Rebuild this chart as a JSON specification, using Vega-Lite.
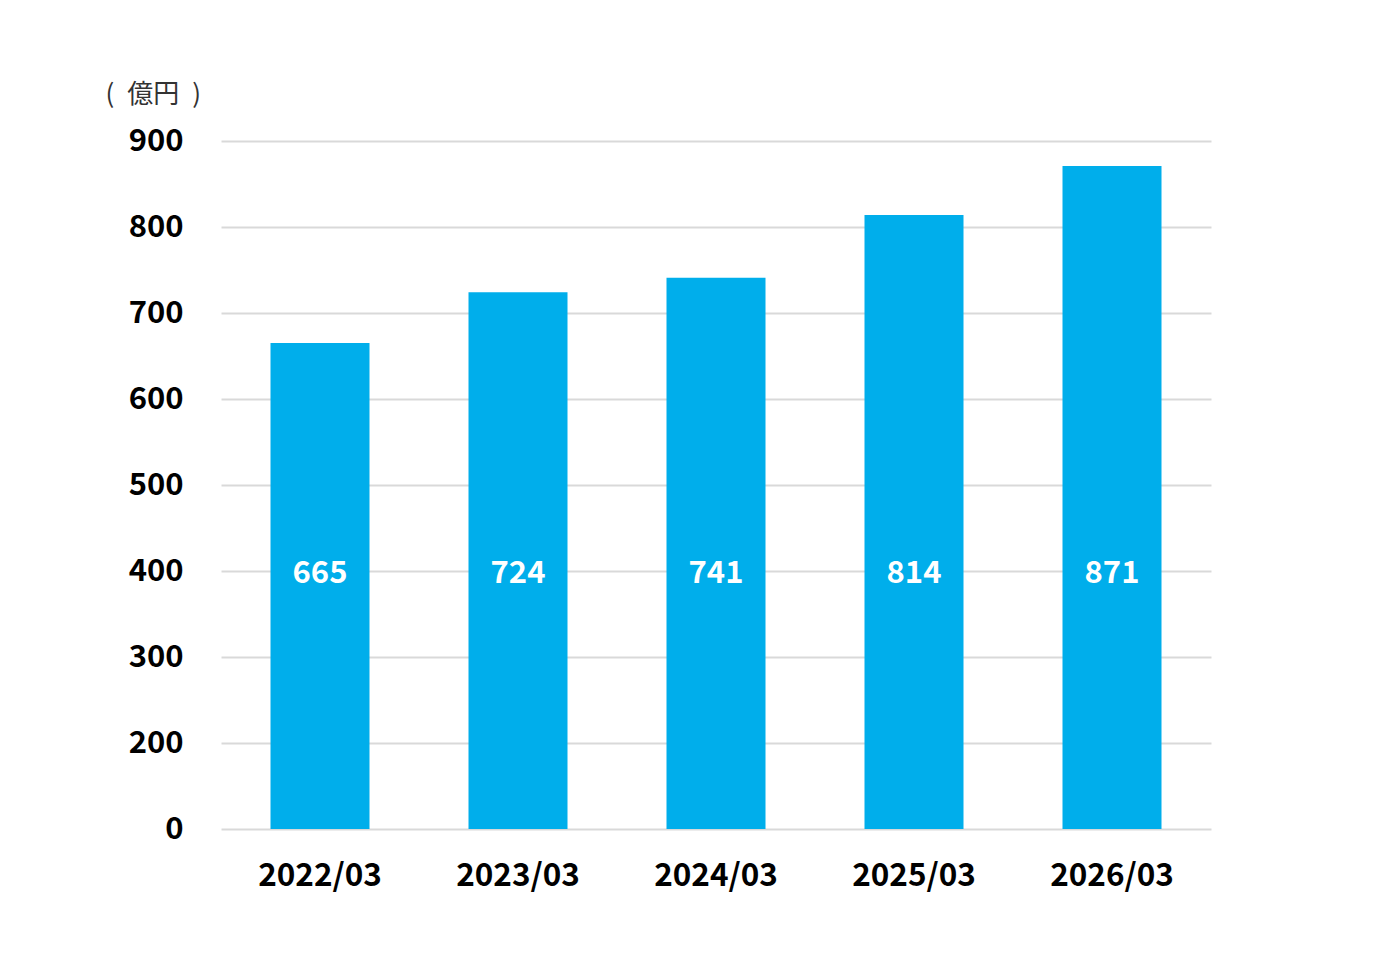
{
  "$schema": "https://vega.github.io/schema/vega-lite/v6.json",
  "width": 990,
  "height": 688,
  "autosize": {"type": "none"},
  "padding": {"left": 219, "top": 141, "right": 166, "bottom": 128},
  "background": "white",
  "config": {
    "view": {"stroke": null},
    "font": "Noto Sans CJK JP"
  },
  "data": {
    "values": [
      {"period": "2022/03", "sales": 665},
      {"period": "2023/03", "sales": 724},
      {"period": "2024/03", "sales": 741},
      {"period": "2025/03", "sales": 814},
      {"period": "2026/03", "sales": 871}
    ]
  },
  "encoding": {
    "x": {
      "field": "period",
      "type": "nominal",
      "sort": null,
      "scale": {"paddingInner": 0.5, "paddingOuter": 0.25, "range": [2, 992]},
      "axis": {
        "title": null,
        "labelAngle": 0,
        "labelFontSize": 31.5,
        "labelFontWeight": "bold",
        "labelColor": "#000000",
        "labelPadding": 31,
        "domain": false,
        "ticks": false
      }
    }
  },
  "layer": [
    {
      "mark": {"type": "bar", "color": "#00AEEB"},
      "encoding": {
        "y": {
          "field": "sales",
          "type": "quantitative",
          "scale": {"domain": [100, 900], "zero": false, "nice": false},
          "axis": {
            "values": [100, 200, 300, 400, 500, 600, 700, 800, 900],
            "labelExpr": "datum.value == 100 ? '0' : datum.label",
            "labelFontSize": 31,
            "labelFontWeight": "bold",
            "labelColor": "#000000",
            "labelPadding": 36,
            "domain": false,
            "ticks": false,
            "gridColor": "#d9d9d9",
            "gridWidth": 2,
            "title": "(\u2002億円\u2002)",
            "titleAngle": 0,
            "titleAlign": "left",
            "titleBaseline": "middle",
            "titleX": -114,
            "titleY": -47,
            "titleFontSize": 26,
            "titleFontWeight": "normal",
            "titleColor": "#333333"
          }
        },
        "y2": {"datum": 100}
      }
    },
    {
      "mark": {
        "type": "text",
        "color": "white",
        "fontSize": 31,
        "fontWeight": "bold",
        "baseline": "middle",
        "dy": 3
      },
      "encoding": {
        "y": {"datum": 400},
        "text": {"field": "sales", "type": "quantitative"}
      }
    }
  ]
}
